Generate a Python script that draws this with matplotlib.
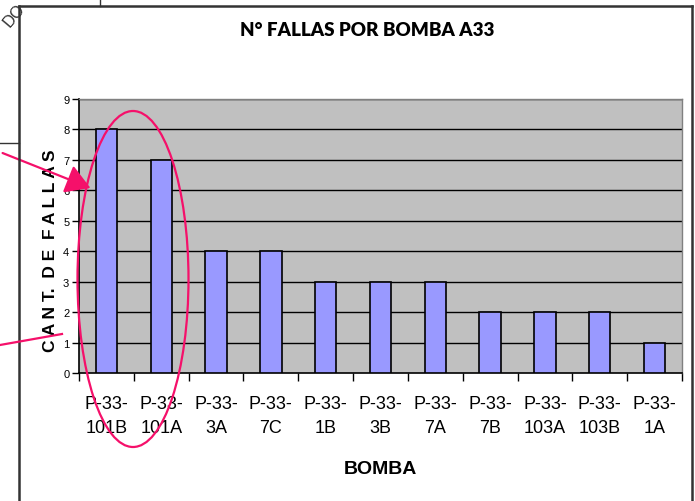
import matplotlib
matplotlib.use("Agg")
import matplotlib.pyplot as plt
from matplotlib.patches import Ellipse, FancyArrowPatch
import numpy as np

categories = ["P-33-\n101B", "P-33-\n101A", "P-33-\n3A", "P-33-\n7C", "P-33-\n1B",
              "P-33-\n3B", "P-33-\n7A", "P-33-\n7B", "P-33-\n103A", "P-33-\n103B", "P-33-\n1A"]
fallas = [8, 7, 4, 4, 3, 3, 3, 2, 2, 2, 1]
yticks = [0, 1, 2, 3, 4, 5, 6, 7, 8, 9]

W, H = 695, 502
fig = plt.figure(figsize=(W / 100, H / 100), dpi=100)
fig.patch.set_facecolor("white")

# plot area in pixels
L, R, T, B = 79, 682, 100, 374
ax = fig.add_axes([L / W, 1 - B / H, (R - L) / W, (B - T) / H])
ax.set_facecolor("#C0C0C0")

narrow = ["Liberation Sans", "DejaVu Sans"]

x = np.arange(len(categories))
ax.bar(x, fallas, width=0.39, color="#9999FF", edgecolor="black", linewidth=1.2, zorder=3)
ax.set_xlim(-0.5, len(categories) - 0.5)
ax.set_ylim(0, 9)
ax.set_yticks(yticks)
for v in yticks[1:]:
    ax.axhline(v, color="black", lw=1.0, zorder=1)

ax.set_xticks(x)
ax.set_xticklabels(categories, family=narrow, fontsize=13, linespacing=1.55)
ax.tick_params(axis="x", which="major", length=0, pad=16)
ax.set_xticks(np.arange(len(categories) + 1) - 0.5, minor=True)
ax.tick_params(axis="x", which="minor", length=6, width=1.0, color="black", direction="out")
ax.tick_params(axis="y", length=5, width=1.0, pad=2, direction="out")
for lab in ax.get_yticklabels():
    lab.set_family(narrow)
    lab.set_fontsize(8)

for s in ["left", "bottom"]:
    ax.spines[s].set_color("black")
    ax.spines[s].set_linewidth(1.2)
for s in ["top", "right"]:
    ax.spines[s].set_color("#808080")
    ax.spines[s].set_linewidth(1.0)

ax.set_title("N° FALLAS POR BOMBA A33", family=["Lato", "DejaVu Sans"], fontweight="heavy",
             fontsize=13.5, x=(367.5 - L) / (R - L), y=(B - 38.5) / (B - T), va="center")
ax.set_xlabel("BOMBA", family=narrow, fontweight="bold", fontsize=14, va="center")
ax.xaxis.set_label_coords((380 - L) / (R - L), (B - 470) / (B - T))
ax.set_ylabel("C A N T.  D E  F A L L A S", family=["Liberation Sans", "DejaVu Sans"],
              fontweight="bold", fontsize=12.5, va="center")
ax.yaxis.set_label_coords((51 - L) / (R - L), (B - 251) / (B - T))

# overlay in pixel coordinates
ov = fig.add_axes([0, 0, 1, 1], zorder=10)
ov.set_xlim(0, W)
ov.set_ylim(H, 0)
ov.axis("off")
ov.patch.set_alpha(0)

fc = "#333333"
ov.plot([19, 19], [7, H], color=fc, lw=1.8)
ov.plot([19, 692], [7, 7], color=fc, lw=1.8)
ov.plot([692, 692], [7, H], color=fc, lw=1.8)
ov.plot([100, 100], [0, 7], color=fc, lw=1.0)
ov.plot([0, 19], [144, 144], color=fc, lw=1.0)
ov.text(14, 16, "DO", rotation=50, fontsize=12, color=fc, ha="center", va="center",
        family=["Liberation Sans", "DejaVu Sans"])

pink = "#F5106A"
ov.add_patch(Ellipse((133, 280), 111, 336, angle=0, fill=False, edgecolor=pink, lw=1.6))
ov.add_patch(FancyArrowPatch((0, 153), (93, 190), arrowstyle="-|>,head_length=10,head_width=6",
                             color=pink, lw=1.6, mutation_scale=1.5))
ov.plot([0, 62], [346, 335], color=pink, lw=1.6)

fig.savefig("out.png", dpi=100)
